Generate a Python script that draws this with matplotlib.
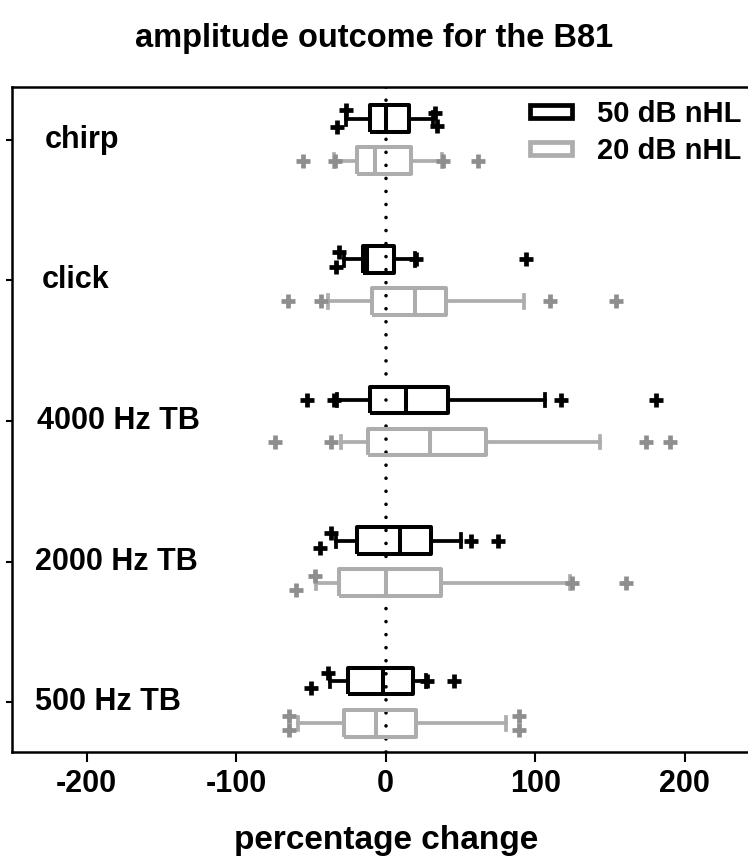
import matplotlib
matplotlib.use('Agg')
import matplotlib.pyplot as plt
from matplotlib.patches import Patch

plt.rcParams['font.family'] = ['Liberation Sans', 'DejaVu Sans']
plt.rcParams['font.weight'] = 'bold'

# categories from bottom to top
categories = ['500 Hz TB', '2000 Hz TB', '4000 Hz TB', 'click', 'chirp']
series_labels = ['50 dB nHL', '20 dB nHL']
x_ticks = [-200, -100, 0, 100, 200]

# 50 dB nHL summaries
loud_whislo = [-37.0, -33.4, -32.5, -28.1, -26.7]
loud_q1 = [-25.2, -19.2, -10.7, -15.2, -10.7]
loud_med = [-1.8, 9.8, 13.8, -12.5, 0.0]
loud_q3 = [18.3, 30.5, 41.7, 5.3, 15.6]
loud_whishi = [27.2, 50.1, 106.7, 19.4, 31.6]
loud_fliers = [[-49.7, -38.5, 27.5, 45.7],
               [-44.1, -36.8, 57.3, 75.1],
               [-53.0, -34.5, 117.4, 181.0],
               [-33.4, -31.2, 20.0, 94.0],
               [-32.5, -26.5, 33.0, 34.0]]

# 20 dB nHL summaries
soft_whislo = [-58.6, -46.5, -29.6, -38.5, -34.8]
soft_q1 = [-28.1, -31.4, -11.8, -8.9, -19.2]
soft_med = [-6.2, 0.4, 29.4, 19.4, -7.4]
soft_q3 = [20.5, 37.2, 67.3, 40.5, 17.2]
soft_whishi = [80.2, 123.0, 143.5, 92.5, 37.9]
soft_fliers = [[-64.6, -64.6, 89.1, 89.1],
               [-59.7, -47.5, 124.8, 160.4],
               [-74.2, -36.3, 174.3, 190.3],
               [-65.3, -43.0, 109.6, 154.2],
               [-55.3, -34.0, 38.0, 61.7]]

# vertical jitter of outlier markers (layout only)
loud_jitter = [[-0.05, 0.06, 0, 0], [-0.05, 0.055, 0, 0], [0, 0, 0, 0],
               [-0.055, 0.05, 0, 0], [-0.06, 0.06, 0.04, -0.05]]
soft_jitter = [[0.05, -0.05, 0.05, -0.05], [-0.05, 0.05, 0, 0], [0, 0, 0, 0],
               [0, 0, 0, 0], [0, 0, 0, 0]]

BLACK = '#000000'
GREY_BOX = '#adadad'
GREY_FLIER = '#8e8e8e'

fig = plt.figure(figsize=(7.48, 8.66), dpi=100)
ax = fig.add_axes([12 / 748, 1 - 752 / 866, 747.5 / 748, 665 / 866])

ax.axvline(0, color='black', linewidth=2.6, linestyle=(0, (0.01, 3.6)),
           dash_capstyle='round', zorder=0)

def draw_series(whislo, q1, med, q3, whishi, fliers, jitter, offset, color, fcolor):
    stats = []
    for i in range(len(categories)):
        stats.append(dict(whislo=whislo[i], q1=q1[i], med=med[i], q3=q3[i],
                          whishi=whishi[i], fliers=[]))
    positions = [i + 1 + offset for i in range(len(categories))]
    lp = dict(color=color, linewidth=2.9, solid_joinstyle='round',
              solid_capstyle='butt')
    ax.bxp(stats, positions=positions, widths=0.19, capwidths=0.09,
           orientation='horizontal', showfliers=False,
           boxprops=lp, medianprops=lp,
           whiskerprops=dict(color=color, linewidth=2.7),
           capprops=dict(color=color, linewidth=2.7), manage_ticks=False)
    for i, pos in enumerate(positions):
        ys = [pos + j for j in jitter[i]]
        ax.plot(fliers[i], ys, linestyle='none', marker='+', markersize=10,
                markeredgewidth=3.4, color=fcolor, zorder=3)

draw_series(loud_whislo, loud_q1, loud_med, loud_q3, loud_whishi,
            loud_fliers, loud_jitter, 0.15, BLACK, BLACK)
draw_series(soft_whislo, soft_q1, soft_med, soft_q3, soft_whishi,
            soft_fliers, soft_jitter, -0.15, GREY_BOX, GREY_FLIER)

ax.set_xlim(-250, 250)
ax.set_ylim(0.646, 5.375)
ax.set_xticks(x_ticks)
ax.set_xticklabels([str(t) for t in x_ticks], fontsize=22, fontweight='bold')
ax.set_yticks(range(1, len(categories) + 1))
ax.set_yticklabels([''] * len(categories))
ax.tick_params(axis='x', direction='out', length=7, width=1.5, pad=5)
ax.tick_params(axis='y', direction='out', length=4.5, width=1.5)
for sp in ax.spines.values():
    sp.set_linewidth(1.8)

label_x_px = [35, 35, 37, 42, 45]
for i, cat in enumerate(categories):
    ax.text((label_x_px[i] - 12) / 747.5, i + 1, cat,
            transform=ax.get_yaxis_transform(), ha='left', va='center',
            fontsize=22, fontweight='bold')

ax.set_xlabel('percentage change', fontsize=24, fontweight='bold', labelpad=19)
fig.text(0.5, 1 - 39 / 866, 'amplitude outcome for the B81', ha='center',
         va='center', fontsize=23.5, fontweight='bold')

handles = [Patch(facecolor='white', edgecolor=BLACK, linewidth=3.4),
           Patch(facecolor='white', edgecolor=GREY_BOX, linewidth=3.4)]
ax.legend(handles, series_labels, loc='upper left',
          bbox_to_anchor=((530 - 12) / 747.5, 0.98), frameon=False,
          fontsize=21, handlelength=1.45, handleheight=0.3,
          handletextpad=0.85, labelspacing=0.3, borderpad=0,
          borderaxespad=0)

fig.savefig('out.png', dpi=100)
